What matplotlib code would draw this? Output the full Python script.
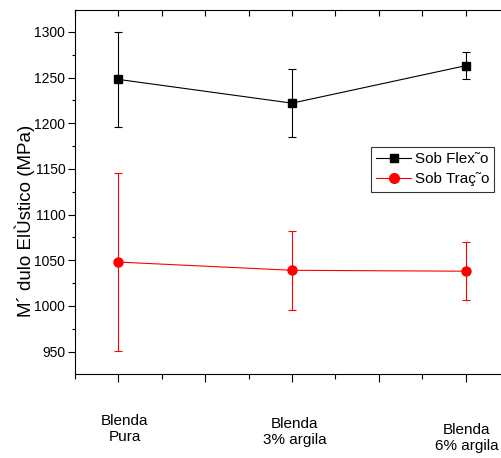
import matplotlib
matplotlib.use("Agg")
import matplotlib.pyplot as plt
from matplotlib.ticker import MultipleLocator
from matplotlib.lines import Line2D

plt.rcParams['font.family'] = ['Liberation Sans', 'DejaVu Sans']

positions = [1, 2, 3]
categories = ["Blenda\nPura", "Blenda\n3% argila", "Blenda\n6% argila"]
flexao = [1248, 1222, 1263]
flexao_err = [52, 37, 15]
tracao = [1048, 1039, 1038]
tracao_err = [97, 43, 32]
labels = ["Sob Flex˜o", "Sob Traç˜o"]
ylabel = "M´ dulo ElÙstico (MPa)"

W, H = 502, 458
fig = plt.figure(figsize=(W/100, H/100), dpi=100)
ax = fig.add_axes([75/W, 1-373.5/H, 434/W, (373.5-10)/H])

ax.errorbar(positions, flexao, yerr=flexao_err, color='black', marker='s', ms=5.5,
            lw=0.8, elinewidth=0.8, capsize=3, capthick=0.8)
ax.errorbar(positions, tracao, yerr=tracao_err, color='#ff0000', marker='o', ms=6.5,
            lw=0.8, elinewidth=0.8, capsize=3, capthick=0.8)

ax.set_xlim(0.75, 3.25)
ax.set_ylim(926, 1324)
ax.xaxis.set_major_locator(MultipleLocator(0.5))
ax.xaxis.set_minor_locator(MultipleLocator(0.25))
ax.yaxis.set_major_locator(MultipleLocator(50))
ax.yaxis.set_minor_locator(MultipleLocator(25))
ax.tick_params(axis='x', which='major', direction='out', length=6, width=0.8,
               top=False, labelbottom=False)
ax.tick_params(axis='x', which='minor', direction='out', length=3.5, width=0.8, top=False)
ax.tick_params(axis='y', which='major', direction='out', length=5, width=0.8, labelsize=10, pad=2)
ax.tick_params(axis='y', which='minor', direction='out', length=2.5, width=0.8)
for s in ax.spines.values():
    s.set_linewidth(0.8)
ax.spines['right'].set_visible(False)

# top ticks inward
sec = ax.secondary_xaxis('top')
sec.xaxis.set_major_locator(MultipleLocator(0.25))
sec.tick_params(direction='in', length=4, width=0.8, labeltop=False)
sec.spines['top'].set_visible(False)

label_pos = [(125, 429), (295, 432), (467, 438)]
for (px, py), txt in zip(label_pos, categories):
    fig.text(px/W, 1-py/H, txt, ha='center', va='center', fontsize=11, linespacing=1.2)

fig.text(25/W, 1-221/H, ylabel, rotation=90, ha='center', va='center', fontsize=13.5)

handles = [Line2D([], [], color='black', marker='s', ms=6, lw=0.8),
           Line2D([], [], color='#ff0000', marker='o', ms=7, lw=0.8)]
leg = ax.legend(handles, labels, loc='upper left',
                bbox_to_anchor=((371-75)/434, (373.5-147)/(363.5)),
                fontsize=11, frameon=True, fancybox=False, edgecolor='black',
                borderpad=0.35, handlelength=2.3, handletextpad=0.2, labelspacing=0.4,
                borderaxespad=0)
leg.get_frame().set_linewidth(0.8)

fig.savefig("out.png", dpi=100)
